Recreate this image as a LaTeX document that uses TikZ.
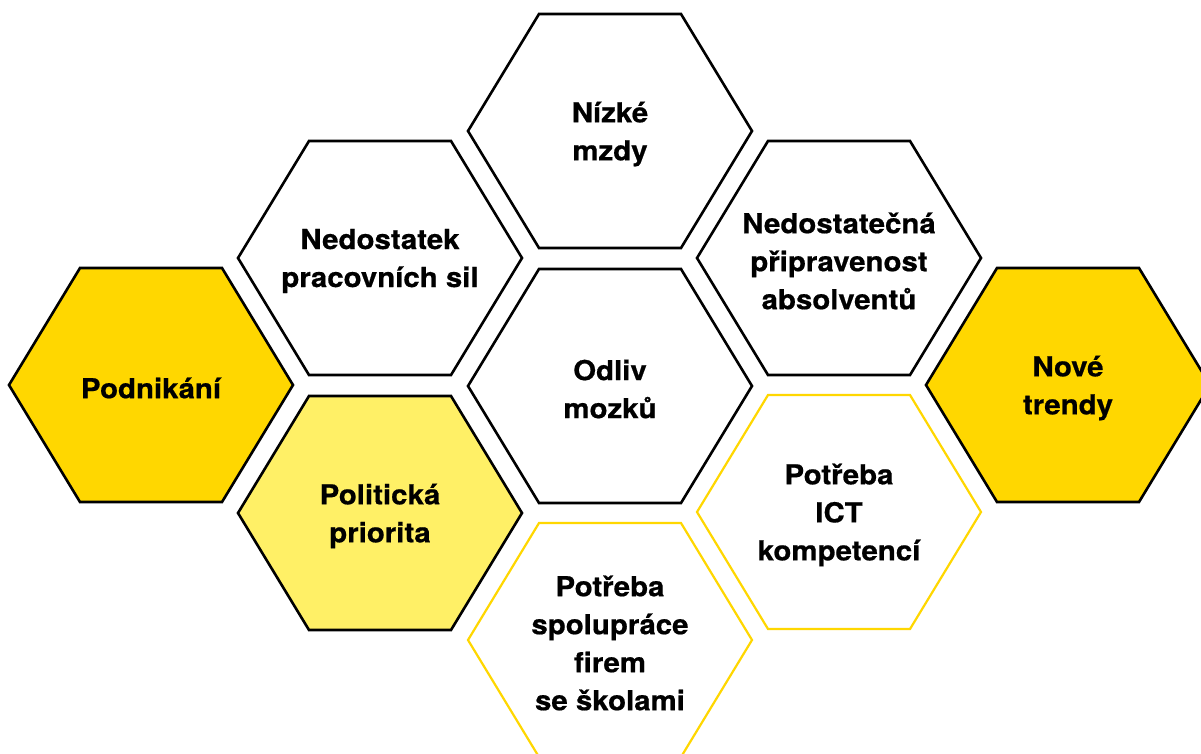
\documentclass[tikz,border=0pt]{standalone}
\usepackage{fontspec}
\setmainfont{TeX Gyre Heros}[FakeStretch=1.07,FakeBold=0.6]
\definecolor{hexgold}{HTML}{FFD700}
\definecolor{hexlight}{HTML}{FFF066}
\newcommand\hexcell[2]{(#1-142,#2) -- (#1-71,#2-117) -- (#1+71,#2-117) -- (#1+142,#2) -- (#1+71,#2+117) -- (#1-71,#2+117) -- cycle}
\tikzset{
  hexline/.style={draw=black,line width=2.6pt,line join=miter},
  hexgoldfill/.style={hexline,fill=hexgold},
  hexlightfill/.style={hexline,fill=hexlight},
  hexyellow/.style={draw=hexgold,line width=2.2pt,fill=white},
  hexplain/.style={hexline,fill=white},
  lbl/.style={font=\bfseries\fontsize{27.5}{38}\selectfont,align=center,text=black,inner sep=0pt,yshift=-3pt}
}
\begin{document}
\begin{tikzpicture}[x=1pt,y=-1pt]
\useasboundingbox[fill=white] (0,0) rectangle (1201,753);
% hexagons
\path[hexplain] \hexcell{610}{131};
\path[hexplain] \hexcell{380}{258};
\path[hexplain] \hexcell{839}{258};
\path[hexgoldfill] \hexcell{151}{385};
\path[hexplain] \hexcell{610}{386};
\path[hexgoldfill] \hexcell{1068}{385};
\path[hexlightfill] \hexcell{380}{513};
\path[hexyellow] \hexcell{839}{512};
\path[hexyellow] \hexcell{610}{640};
% labels
\node[lbl] (nizke) at (610,131) {Nízké\\mzdy};
\node[lbl] (nedostatek) at (380,258) {Nedostatek\\pracovních sil};
\node[lbl] (pripravenost) at (839,258) {Nedostatečná\\připravenost\\absolventů};
\node[lbl] (podnikani) at (151,385) {Podnikání};
\node[lbl] (odliv) at (610,386) {Odliv\\mozků};
\node[lbl] (trendy) at (1068,385) {Nové\\trendy};
\node[lbl] (priorita) at (380,513) {Politická\\priorita};
\node[lbl] (ict) at (839,512) {Potřeba\\ICT\\kompetencí};
\node[lbl] (spoluprace) at (610,640) {Potřeba\\spolupráce\\firem\\se školami};
\end{tikzpicture}
\end{document}
